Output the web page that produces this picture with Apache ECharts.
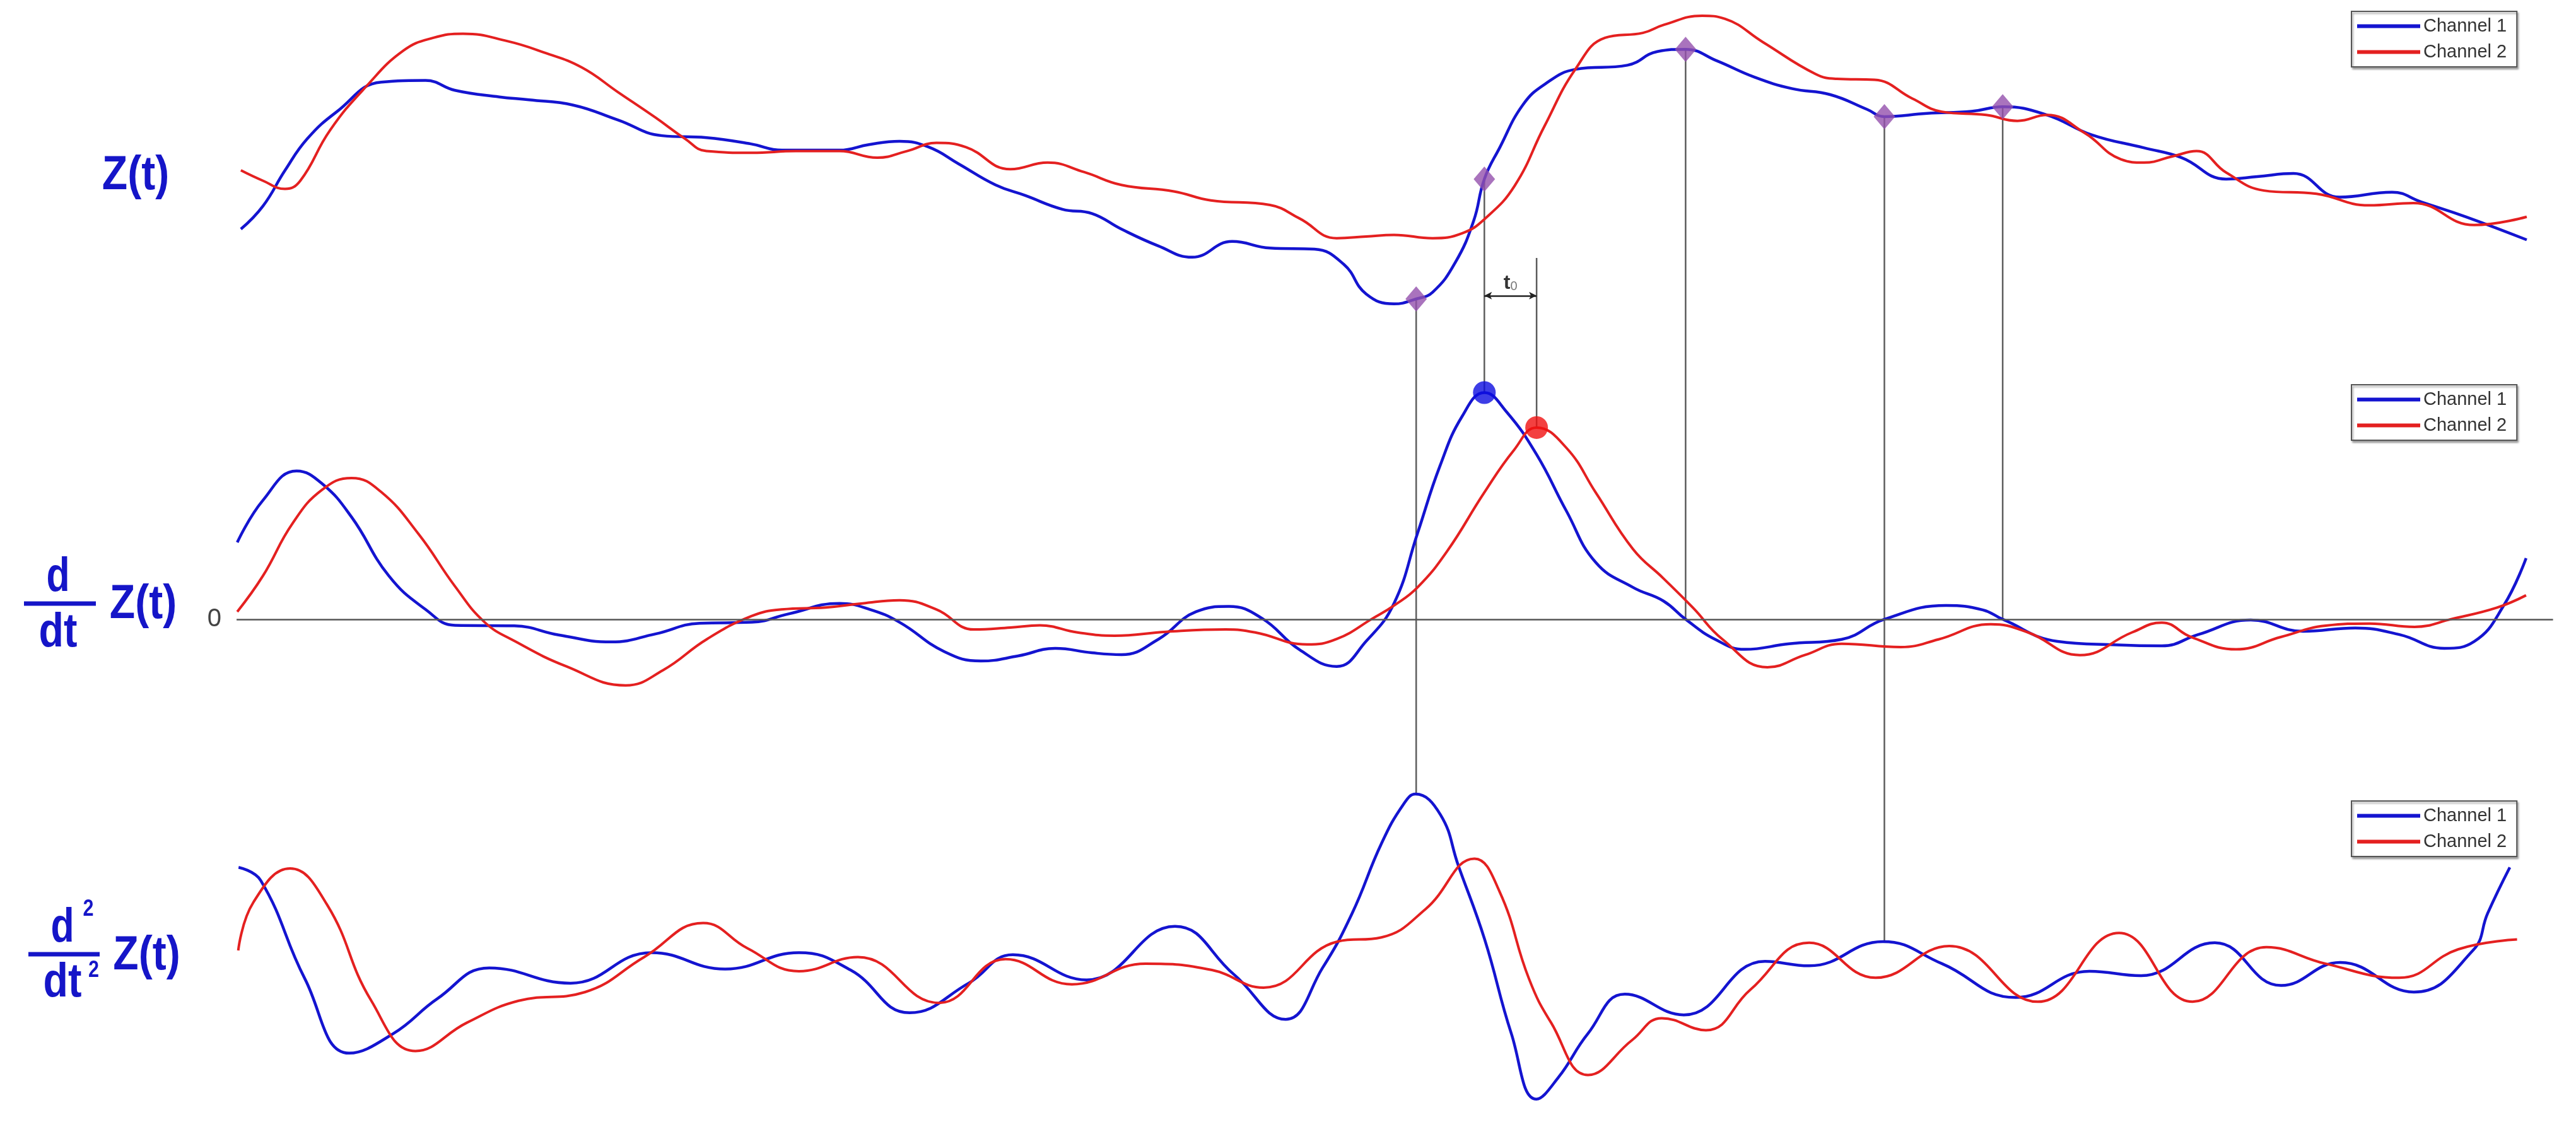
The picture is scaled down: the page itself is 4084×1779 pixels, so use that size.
<!DOCTYPE html>
<html>
<head>
<meta charset="utf-8">
<title>Z(t) and its derivatives</title>
<script src="https://cdn.jsdelivr.net/npm/echarts@6/dist/echarts.min.js"></script>
<style>
  html, body { margin: 0; padding: 0; background: #fff; }
  #chart { width: 4084px; height: 1779px; }
</style>
</head>
<body>
<div id="chart"></div>
<script>
// t in samples, values in arbitrary units
var zCh1 = [[146.6,60.5],[160,74.5],[173.5,96.3],[187,115.5],[205,132],[232,150],[259,151],[277,145],[304,141],[322,139.2],[349,136],[376,127],[403,117.4],[430,116.2],[457,112.4],[476,108.6],[511,108.6],[529,112],[547.5,114],[565.5,110.4],[583.6,100.2],[606,87.4],[624,81],[646.7,72.6],[664.7,70],[682.6,60.5],[705,50.3],[725.6,43.4],[750,53],[773,49],[800,48.3],[818,39],[831.6,21],[848.5,15],[862,18],[872,22.1],[885.7,40],[897,65.6],[903.5,91],[913,110.4],[926.8,136],[940.4,148.8],[959,157.8],[990.6,160.3],[1008.8,168.6],[1026,170],[1045,163],[1068,153],[1091,146],[1114,142.4],[1136.5,133.4],[1147,129],[1173,131],[1200,132.2],[1219,135],[1246,130],[1273,118],[1305,110],[1328,104],[1355,91],[1374,92.5],[1396,94.4],[1424,80],[1456,83],[1474,77],[1501,68],[1538,54]];
var zCh2 = [[146.6,96.3],[160,90],[173.5,85],[182.8,90],[200.8,120.6],[223,147.5],[245.7,169.3],[263.8,177],[281.8,179.5],[308.7,175],[331.3,168],[354,159],[376,144],[399,128.4],[417,115.5],[430,108],[457.6,107],[484.5,108],[511,108],[534,104],[552,108],[570,113],[588,110.4],[615,97],[637.7,101],[660,95.2],[682.6,87.4],[714.5,83.5],[737,78],[773,75.2],[791,67],[813.6,55],[831.6,56],[848.5,57],[872,55],[890,58],[904,67],[922,87],[940,123],[959,158],[977,177],[1000,180],[1013,185],[1036,190.4],[1050,188.5],[1073,174.4],[1105,155],[1118,152],[1141,151.4],[1164,140],[1182,132],[1209,130],[1228,126.4],[1246,130],[1269,119],[1291,103],[1305,101],[1323,105],[1337,108],[1355,95],[1378,84],[1410,82],[1442,75],[1469,76.4],[1506,63],[1538,68]];

var dCh1 = [[144.4,46.8],[160,72.4],[180.5,90.3],[196,82.6],[214,62.2],[236.7,26.4],[259,6],[277,-3.7],[313,-4],[340,-9.5],[372,-13.8],[399,-8.9],[425.8,-2.4],[457.6,-1.8],[480,3.3],[511,9.7],[529.5,6],[547.5,-1.8],[574.8,-19.7],[597,-25.4],[619.7,-22.3],[642.3,-17.7],[664.7,-20.4],[682.6,-21.5],[705.3,-12],[728,4.6],[748,7.8],[768,0.7],[791,-18.5],[813.6,-28.7],[831.6,-13.3],[848.5,9.7],[862.8,52.3],[876.5,93.4],[890,123.6],[903.5,138],[917,126.3],[935.3,100.3],[953.4,66],[971.4,34.5],[994,19.4],[1012.4,11.2],[1026,0],[1044,-12.2],[1062,-18.3],[1089,-14.9],[1121,-12.2],[1147,0],[1184.5,8.4],[1207,5.7],[1219,0],[1252.5,-13.5],[1288.5,-15.6],[1315.8,-16.2],[1338,-9.3],[1370,-0.4],[1401.8,-7.3],[1433.6,-5.3],[1460.8,-9.4],[1487.8,-17.7],[1506,-13.5],[1524,8.4],[1537.6,37.2]];
var dCh2 = [[144.4,4.6],[160,26.4],[178,58.3],[196,78.8],[214,86],[232,77.5],[254.7,52],[277,20],[295,-1.8],[313.3,-13.3],[344.8,-28.7],[380.8,-40.2],[403.5,-31],[430.4,-12],[457.6,2],[475.7,6],[502.6,7.2],[525,9.7],[547.5,11.6],[570,6],[592.8,-6.2],[615,-5],[633,-3.7],[655.8,-8],[678.4,-10],[710,-7.6],[746,-6.2],[764,-8],[795.5,-15.3],[813.6,-12],[835.8,0.7],[848.5,8.4],[862.8,19.4],[880.8,41.4],[903.4,77.1],[921.5,103],[935.3,116.7],[953.4,104.4],[971.4,77],[994,42.7],[1012.4,25],[1030.5,7],[1048.5,-12.2],[1075.8,-29.2],[1098.5,-21.8],[1121,-14.9],[1157,-16.9],[1180,-12.2],[1211.7,-3],[1234.4,-8],[1266,-21.8],[1297.7,-8],[1315.8,-2],[1333.8,-10.8],[1361,-18.3],[1388.3,-10.8],[1415.6,-3.9],[1442.5,-2.6],[1469.7,-4.6],[1492.4,0.2],[1519.6,7],[1537.6,14.6]];

var d2Ch1 = [[145.2,47],[158.7,39],[185.6,-20.9],[212.5,-66.1],[239.5,-54.1],[266.4,-32.8],[297.8,-14.2],[347.2,-23.5],[396.6,-4.9],[441.4,-14.9],[486.3,-4.9],[517.7,-15.5],[553.6,-41.5],[589.6,-23.5],[616.5,-6.2],[661.4,-21.5],[715.2,11.1],[751.1,-18.2],[782.6,-45.5],[805,-14.2],[823,19],[840.9,61.6],[854.4,85.6],[861.5,91.6],[876.8,79],[887.6,48.3],[903.7,3.1],[919.9,-54.1],[935.2,-94.1],[948.6,-80.8],[966.6,-54.1],[989,-30.2],[1024.9,-42.8],[1074.3,-10.2],[1101.2,-12.9],[1146.1,1.8],[1182,-11.6],[1226.9,-32.2],[1271.8,-16.2],[1303.2,-18.9],[1348.1,1.1],[1388.5,-24.9],[1424.4,-10.9],[1469.3,-28.9],[1505.2,-3.6],[1514.2,19],[1527.7,47]];
var d2Ch2 = [[145,-3.6],[154.2,25.7],[176.6,46.3],[199,24.4],[226,-34.2],[252.9,-64.8],[284.3,-47.5],[315.7,-34.2],[356.1,-28.9],[392.1,-7.6],[428,13.1],[454.9,-2.2],[486.3,-16.2],[522.2,-7.6],[571.6,-35.5],[612,-8.9],[652.4,-24.2],[697.3,-11.6],[737.7,-15.5],[769.1,-26.2],[814,1.8],[840.9,4.4],[867.8,21.7],[897.5,52.3],[912.7,32.4],[930.7,-20.9],[944.1,-47.5],[966.6,-79.4],[993.5,-58.1],[1011.5,-44.8],[1038.4,-52.1],[1065.4,-27.5],[1101.2,1.1],[1141.6,-20.2],[1186.5,-0.9],[1240.4,-34.8],[1289.8,7.1],[1334.6,-34.8],[1379.5,-1.6],[1415.4,-11.6],[1460.3,-20.2],[1496.2,-2.9],[1532.1,3.1]];

// marked points on Z(t) (channel 1)
var markT = [862, 903.5, 1026, 1147, 1219];
var markZ = [18, 91, 170, 129, 135];
// peaks of dZ/dt
var peakT = [903.5, 935.3];
var peakV = [138, 116.7];
// guide lines: start in Z(t) panel, end in panel guideToGrid
var guideT = [862, 903.5, 935.3, 1026, 1147, 1219];
var guideFrom = [18, 91, 43, 170, 129, 135];
var guideToGrid = [2, 1, 1, 1, 2, 1];
var guideTo = [91.6, 138, 116.7, 0, 1.8, 0];
// t0 arrow
var t0From = 903.5, t0To = 935.3, t0Level = 20;

var BLUE = '#1414d0';
var RED = '#e42020';
var LABEL_BLUE = '#1515c8';
var FONT = '"Liberation Sans", Arial, sans-serif';

var chart = echarts.init(document.getElementById('chart'));

function legendAt(top) {
    return {
        data: ['Channel 1', 'Channel 2'],
        orient: 'vertical',
        left: 3728,
        top: top,
        padding: [9, 16, 9, 9],
        itemGap: 12,
        itemWidth: 100,
        itemHeight: 6,
        icon: 'rect',
        selectedMode: false,
        textStyle: {fontSize: 29, color: '#333', fontFamily: FONT},
        backgroundColor: '#fff',
        borderColor: '#555',
        borderWidth: 2,
        borderRadius: 0,
        shadowColor: 'rgba(0,0,0,0.35)',
        shadowBlur: 3,
        shadowOffsetX: 2,
        shadowOffsetY: 3
    };
}

function xAx(i) {
    return {type: 'value', gridIndex: i, min: 144, max: 1554, show: false};
}

function curve(name, data, idx, color, width) {
    return {
        name: name, type: 'line', data: data,
        xAxisIndex: idx, yAxisIndex: idx,
        showSymbol: false, smooth: 0.45,
        color: color,
        lineStyle: {color: color, width: width},
        z: 3
    };
}

var option = {
    animation: false,
    backgroundColor: '#fff',
    textStyle: {fontFamily: FONT},
    legend: [legendAt(18), legendAt(610), legendAt(1270)],
    grid: [
        {left: 375.1, top: 0, width: 3672.5, height: 520.9, outerBoundsMode: 'none'},
        {left: 375.1, top: 565.2, width: 3672.5, height: 573.0, outerBoundsMode: 'none'},
        {left: 375.1, top: 1224.2, width: 3672.5, height: 554.8, outerBoundsMode: 'none'}
    ],
    xAxis: [xAx(0), xAx(1), xAx(2)],
    yAxis: [
        {type: 'value', gridIndex: 0, min: 0, max: 200, show: false},
        {
            type: 'value', gridIndex: 1, min: -60, max: 160, interval: 20,
            axisLine: {show: false}, axisTick: {show: false}, splitLine: {show: false},
            axisLabel: {
                formatter: function (v) { return v === 0 ? '0' : ''; },
                fontSize: 40, color: '#444', margin: 24, padding: [28, 0, 0, 0]
            }
        },
        {type: 'value', gridIndex: 2, min: -108, max: 105, show: false}
    ],
    series: [
        curve('Channel 1', zCh1, 0, BLUE, 4.5),
        curve('Channel 2', zCh2, 0, RED, 4),
        curve('Channel 1', dCh1, 1, BLUE, 4.5),
        curve('Channel 2', dCh2, 1, RED, 4),
        curve('Channel 1', d2Ch1, 2, BLUE, 4.5),
        curve('Channel 2', d2Ch2, 2, RED, 4),
        {
            name: 'marks', type: 'scatter', xAxisIndex: 0, yAxisIndex: 0,
            data: markT.map(function (t, i) { return [t, markZ[i]]; }),
            symbol: 'diamond', symbolSize: [34, 40],
            itemStyle: {color: '#9450ac'},
            z: 6,
            markLine: {
                silent: true,
                symbol: ['arrow', 'arrow'],
                symbolSize: [9, 12],
                label: {show: false},
                lineStyle: {color: '#222', width: 2.5, type: 'solid'},
                data: [[{coord: [t0From, t0Level]}, {coord: [t0To, t0Level]}]]
            }
        },
        {
            name: 'peaks', type: 'scatter', xAxisIndex: 1, yAxisIndex: 1,
            data: [
                {value: [peakT[0], peakV[0]], itemStyle: {color: '#0c0ce0'}},
                {value: [peakT[1], peakV[1]], itemStyle: {color: '#f01010'}}
            ],
            symbol: 'circle', symbolSize: 36,
            z: 6,
            markLine: {
                silent: true,
                symbol: 'none',
                label: {show: false},
                lineStyle: {color: '#555', width: 2.5, type: 'solid'},
                data: [{yAxis: 0}]
            }
        }
    ]
};

chart.setOption(option);

// graphics: vertical guide lines (through the scales) and panel labels
var g = [];
guideT.forEach(function (t, i) {
    var p1 = chart.convertToPixel({gridIndex: 0}, [t, guideFrom[i]]);
    var p2 = chart.convertToPixel({gridIndex: guideToGrid[i]}, [t, guideTo[i]]);
    g.push({
        type: 'line', z: 1, silent: true,
        shape: {x1: p1[0], y1: p1[1], x2: p2[0], y2: p2[1]},
        style: {stroke: '#5c5c5c', lineWidth: 2.5}
    });
});

var mid = chart.convertToPixel({gridIndex: 0}, [(t0From + t0To) / 2, t0Level]);
g.push({
    type: 'text', x: mid[0], y: mid[1] - 20, z: 10, silent: true,
    style: {
        text: '{a|t}{b|0}', align: 'center', verticalAlign: 'middle',
        rich: {
            a: {fontSize: 32, fontWeight: 'bold', fontFamily: FONT, fill: '#333'},
            b: {fontSize: 20, fontFamily: FONT, fill: '#777', verticalAlign: 'bottom'}
        }
    }
});

function label(txt, x, y, size, sx) {
    return {
        type: 'text', x: x, y: y, scaleX: sx || 0.87, z: 10, silent: true,
        style: {
            text: txt, align: 'center', verticalAlign: 'middle',
            font: 'bold ' + size + 'px ' + FONT, fill: LABEL_BLUE
        }
    };
}
function bar(x1, x2, y) {
    return {
        type: 'line', z: 10, silent: true,
        shape: {x1: x1, y1: y, x2: x2, y2: y},
        style: {stroke: LABEL_BLUE, lineWidth: 7}
    };
}

// Z(t)
g.push(label('Z(t)', 215, 279, 76));
// d/dt Z(t)
g.push(label('d', 92, 916, 76, 0.8));
g.push(bar(38, 152, 957));
g.push(label('dt', 92, 1004, 76, 0.85));
g.push(label('Z(t)', 227, 959, 76));
// d2/dt2 Z(t)
g.push(label('d', 99, 1472, 76, 0.8));
g.push(label('2', 140, 1442, 36, 0.85));
g.push(bar(45, 158, 1513));
g.push(label('dt', 99, 1559, 76, 0.85));
g.push(label('2', 148.5, 1539, 36, 0.85));
g.push(label('Z(t)', 232.5, 1516, 76));

chart.setOption({graphic: g});
</script>
</body>
</html>
